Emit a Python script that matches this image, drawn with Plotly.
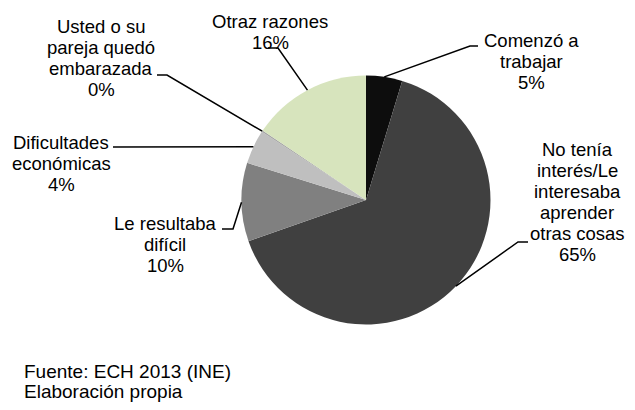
import math
import plotly.graph_objects as go

# ---- data ----
categories = [
    "Comenzó a trabajar",
    "No tenía interés/Le interesaba aprender otras cosas",
    "Le resultaba difícil",
    "Dificultades económicas",
    "Usted o su pareja quedó embarazada",
    "Otraz razones",
]
values = [4.7, 65.0, 10.2, 4.4, 0.2, 15.6]
label_lines = [
    ["Comenzó a", "trabajar"],
    ["No tenía", "interés/Le", "interesaba", "aprender", "otras cosas"],
    ["Le resultaba", "difícil"],
    ["Dificultades", "económicas"],
    ["Usted o su", "pareja quedó", "embarazada"],
    ["Otraz razones"],
]
source_lines = ["Fuente: ECH 2013 (INE)", "Elaboración propia"]
colors = ["#0D0D0D", "#404040", "#808080", "#BFBFBF", "#A6A6A6", "#D7E4BD"]

# ---- layout constants (pixels in the final picture) ----
OFF = 8  # page body margin
W, H = 635 - OFF, 410 - 2 * OFF
CX, CY, R = 366, 200, 124.5
FONT = "Liberation Sans, Arial, sans-serif"
FS = 18.5
STEP = 21
# per label: text center x, first line center y, elbow point, end point
label_layout = [
    (531, 40, (470, 46), (478, 46)),
    (577, 149, (518, 242), (528, 242)),
    (165, 223, (233, 229), (222, 229)),
    (61, 142, (113, 147), (113, 147)),
    (101, 26, (167, 75), (157, 75)),
    (270, 22, (278, 48), (268, 48)),
]


def px(x):
    return (x - OFF) / W


def py(y):
    return 1 - (y - OFF) / H


total = sum(values)
fig = go.Figure(
    go.Pie(
        labels=categories,
        values=values,
        sort=False,
        direction="clockwise",
        rotation=0,
        marker=dict(colors=colors, line=dict(width=0)),
        textinfo="none",
        hoverinfo="label+percent",
        showlegend=False,
        domain=dict(
            x=[px(CX - R), px(CX + R)],
            y=[py(CY + R), py(CY - R)],
        ),
    )
)

annotations = []
shapes = []
cum = 0.0
for v, lines, (tx, ty, elbow, end) in zip(values, label_lines, label_layout):
    mid = (cum + v / 2) / total * 2 * math.pi
    cum += v
    sx = CX + R * math.sin(mid)
    sy = CY - R * math.cos(mid)
    pct = f"{round(v / total * 100)}%"
    all_lines = lines + [pct]
    for i, t in enumerate(all_lines):
        annotations.append(
            dict(
                x=px(tx), y=py(ty + i * STEP), xref="paper", yref="paper",
                text=t, showarrow=False, xanchor="center", yanchor="middle",
                font=dict(family=FONT, size=FS, color="#000000"),
            )
        )
    path = (
        f"M {px(sx)},{py(sy)} L {px(elbow[0])},{py(elbow[1])} "
        f"L {px(end[0])},{py(end[1])}"
    )
    shapes.append(
        dict(type="path", xref="paper", yref="paper", path=path,
             line=dict(color="#000000", width=1.5))
    )

for i, t in enumerate(source_lines):
    annotations.append(
        dict(
            x=px(22), y=py(371 + i * 20), xref="paper", yref="paper",
            text=t, showarrow=False, xanchor="left", yanchor="middle",
            font=dict(family=FONT, size=19, color="#000000"),
        )
    )

fig.update_layout(
    width=W, height=H,
    margin=dict(l=0, r=0, t=0, b=0),
    paper_bgcolor="white", plot_bgcolor="white",
    annotations=annotations, shapes=shapes,
)

fig.write_html("out.html")
